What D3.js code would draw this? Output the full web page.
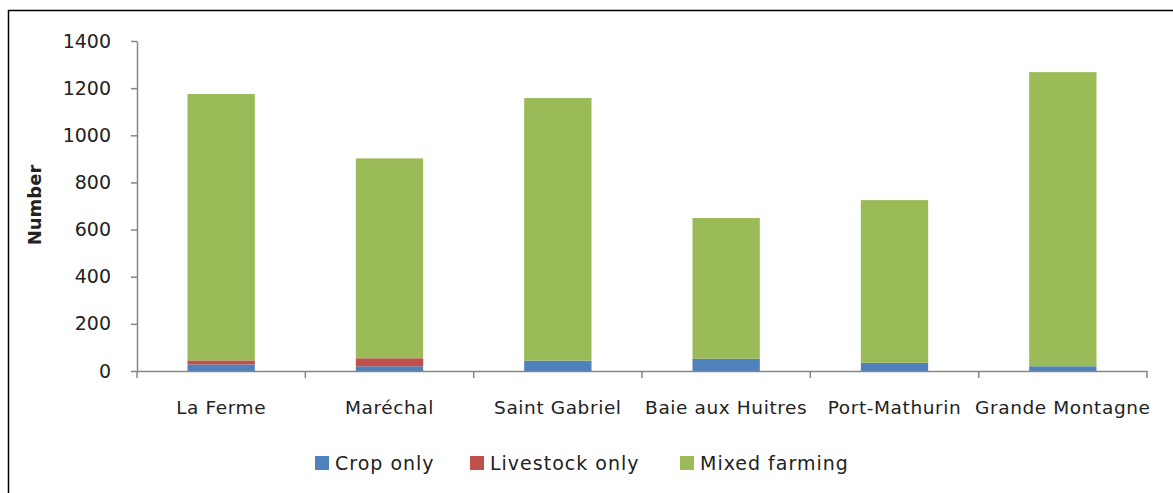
<!DOCTYPE html>
<html><head><meta charset="utf-8">
<script src="https://cdn.jsdelivr.net/npm/d3@7"></script>
<style>body{margin:0;background:#fff}svg{display:block}text{font-family:"DejaVu Sans",sans-serif;fill:#222}</style>
</head><body><svg id="c" width="1173" height="493"></svg>
<script>
const categories=["La Ferme","Maréchal","Saint Gabriel","Baie aux Huitres","Port-Mathurin","Grande Montagne"];
const cropOnly=[28,20,44,52,35,20];
const livestockOnly=[17,34,0,0,0,0];
const mixedFarming=[1130,848,1114,597,690,1248];
const seriesNames=["Crop only","Livestock only","Mixed farming"];
const yTicks=[0,200,400,600,800,1000,1200,1400];
const colors=["#4F81BD","#C0504D","#9BBB59"];

const svg=d3.select("#c");
svg.append("rect").attr("x",8.5).attr("y",10.5).attr("width",1180).attr("height",500).attr("fill","#fff").attr("stroke","#000").attr("stroke-width",1.5);

const x0=137,x1=1147,yTop=41,yBot=371;
const x=d3.scaleBand().domain(categories).range([x0,x1]).paddingInner(0.6).paddingOuter(0.3);
const xb=d3.scaleBand().domain(categories).range([x0,x1]);
const y=d3.scaleLinear().domain([0,1400]).range([yBot,yTop]);

const data=categories.map((c,i)=>({cat:c,"Crop only":cropOnly[i],"Livestock only":livestockOnly[i],"Mixed farming":mixedFarming[i]}));
const stack=d3.stack().keys(seriesNames)(data);

const g=svg.append("g");
stack.forEach((s,si)=>{
  g.selectAll(null).data(s).join("rect")
   .attr("x",d=>x(d.data.cat)).attr("width",x.bandwidth())
   .attr("y",d=>y(d[1])).attr("height",d=>Math.max(0,y(d[0])-y(d[1])))
   .attr("fill",colors[si]);
});

// y axis
const ya=svg.append("g").attr("transform",`translate(${x0},0)`).call(d3.axisLeft(y).tickValues(yTicks).tickFormat(d3.format("d")).tickSize(6).tickSizeOuter(0).tickPadding(20));
ya.select(".domain").attr("stroke","#868686").attr("stroke-width",1.5);
ya.selectAll(".tick line").attr("stroke","#868686").attr("stroke-width",1.5);
ya.selectAll(".tick text").style("font-size","19px").attr("fill","#222");

// x axis
const xa=svg.append("g").attr("transform",`translate(0,${yBot})`).call(d3.axisBottom(xb).tickSize(0).tickPadding(30));
xa.select(".domain").attr("stroke","#868686").attr("stroke-width",1.5);
xa.selectAll(".tick text").style("font-size","18.5px").style("letter-spacing","0.6px").attr("fill","#222");
// boundary ticks
const bounds=d3.range(categories.length+1).map(i=>x0+i*xb.step());
svg.append("g").selectAll("line").data(bounds).join("line")
  .attr("x1",d=>d).attr("x2",d=>d).attr("y1",yBot).attr("y2",yBot+7)
  .attr("stroke","#868686").attr("stroke-width",1.5);

svg.append("text").attr("transform","translate(41,205) rotate(-90)").attr("text-anchor","middle")
  .style("font-size","18px").style("font-weight","bold").text("Number");

// legend
const legX=[315,470,680];
const lg=svg.append("g");
seriesNames.forEach((n,i)=>{
  lg.append("rect").attr("x",legX[i]).attr("y",456).attr("width",14).attr("height",14).attr("fill",colors[i]);
  lg.append("text").attr("x",legX[i]+20).attr("y",470).style("font-size","19px").style("letter-spacing","1px").text(n);
});
</script></body></html>
